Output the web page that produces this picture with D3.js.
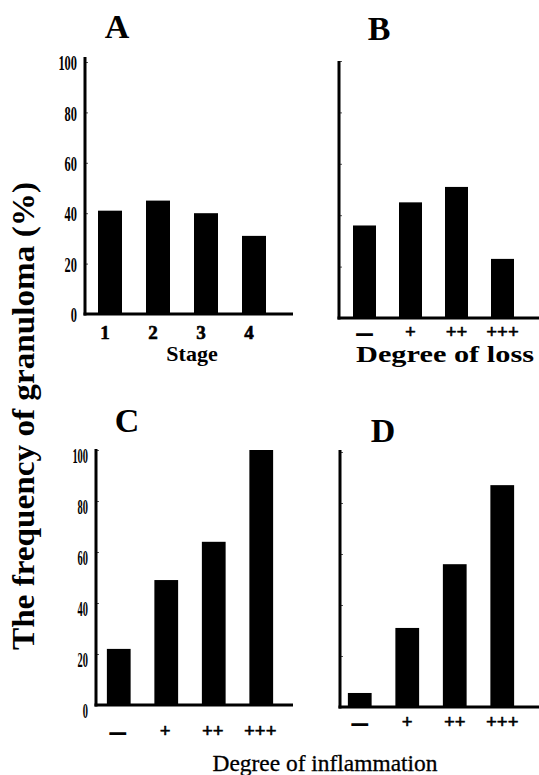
<!DOCTYPE html>
<html lang="en">
<head>
<meta charset="utf-8">
<title>Frequency of granuloma</title>
<script src="https://cdn.jsdelivr.net/npm/d3@7"></script>
<style>
  body { margin: 0; background: #fff; }
  svg { display: block; font-family: 'Liberation Serif', 'Times New Roman', serif; }
</style>
</head>
<body>
<div id="chart"></div>
<script>

/* Data */
/* ==== */

var stageCats = ['1', '2', '3', '4'],
    gradeCats = ['\u2014', '+', '++', '+++'],
    yTicks = [0, 20, 40, 60, 80, 100];

var stageFreq = [41, 45, 40, 31],          // A: by stage
    lossFreq = [36, 45, 51, 23],           // B: by degree of loss
    inflamFreqC = [22, 49, 64, 100],       // C: by degree of inflammation
    inflamFreqD = [5.5, 31, 56, 87];       // D: by degree of inflammation

var width = 539,
    height = 775;

var svg = d3.select('#chart').append('svg')
    .attr('width', width)
    .attr('height', height);

/* Panel layout */
/* ------------ */

var panels = [
  { name: 'A', cats: stageCats, values: stageFreq, labels: true, labScale: 0.62,
    axisX: 85, y0: 314, y100: 62, top: 57, x0: 86, x1: 278, baseEnd: 293,
    titleX: 117, titleY: 38, labY: 339, labDx: -5, tickDy: 1 },
  { name: 'B', cats: gradeCats, values: lossFreq, labels: false, labScale: 1,
    axisX: 339, y0: 318, y100: 61, top: 61, x0: 341.5, x1: 525.5, baseEnd: 539,
    titleX: 379, titleY: 40, labY: 338, labDx: 0, tickDy: 0 },
  { name: 'C', cats: gradeCats, values: inflamFreqC, labels: true, labScale: 0.52,
    axisX: 96, y0: 705, y100: 450, top: 449, x0: 95, x1: 285, baseEnd: 293,
    titleX: 127, titleY: 432, labY: 737, labDx: -1, tickDy: 6 },
  { name: 'D', cats: gradeCats, values: inflamFreqD, labels: false, labScale: 1,
    axisX: 340, y0: 707, y100: 452, top: 450, x0: 336, x1: 526, baseEnd: 539,
    titleX: 383, titleY: 442, labY: 728, labDx: 0, tickDy: 0 }
];

panels.forEach(function(p) {

  var g = svg.append('g');

  var x = d3.scaleBand()
      .domain(p.cats)
      .range([p.x0, p.x1])
      .paddingInner(0.5)
      .paddingOuter(0.25);

  var y = d3.scaleLinear()
      .domain([0, 100])
      .range([p.y0, p.y100]);

  // Bars
  g.selectAll('rect')
    .data(p.values)
    .join('rect')
      .attr('x', function(d, i) { return x(p.cats[i]); })
      .attr('width', x.bandwidth())
      .attr('y', function(d) { return y(d); })
      .attr('height', function(d) { return y(0) - y(d); })
      .attr('fill', '#000');

  // Y axis (small inward ticks, labels only on A and C)
  var yAxis = d3.axisLeft(y)
      .tickValues(yTicks)
      .tickSizeInner(-3)
      .tickSizeOuter(0)
      .tickPadding(8)
      .tickFormat(p.labels ? d3.format('d') : '');

  var ag = g.append('g')
      .attr('transform', 'translate(' + p.axisX + ',0)')
      .call(yAxis);

  ag.select('.domain').remove();
  ag.selectAll('.tick line').attr('stroke', '#555').attr('stroke-width', 1);
  ag.selectAll('.tick text')
      .attr('fill', '#000')
      .attr('font-family', "'Liberation Serif', serif")
      .attr('font-weight', 'bold')
      .attr('font-size', 20)
      .attr('x', -8 / p.labScale)
      .attr('dy', function() { return (0.33 * 20 + p.tickDy) + 'px'; })
      .attr('transform', 'scale(' + p.labScale + ',1)');

  // Axis line and baseline
  g.append('line')
      .attr('x1', p.axisX).attr('x2', p.axisX)
      .attr('y1', p.top).attr('y2', y(0) + 1.5)
      .attr('stroke', '#000').attr('stroke-width', 3);

  g.append('line')
      .attr('x1', p.axisX - 1.5).attr('x2', p.baseEnd)
      .attr('y1', y(0)).attr('y2', y(0))
      .attr('stroke', '#000').attr('stroke-width', 3);

  // Category labels
  g.selectAll('text.cat')
    .data(p.cats)
    .join('text')
      .attr('class', 'cat')
      .attr('x', function(d) { return x(d) + x.bandwidth() / 2 + p.labDx; })
      .attr('y', p.labY)
      .attr('text-anchor', 'middle')
      .attr('font-weight', 'bold')
      .attr('font-size', function(d) { return d === '\u2014' ? 15 : 19; })
      .attr('stroke', '#000')
      .attr('stroke-width', function(d) { return d === '\u2014' ? 1.6 : 0.6; })
      .text(function(d) { return d; });

  // Panel letter
  g.append('text')
      .attr('x', p.titleX)
      .attr('y', p.titleY)
      .attr('text-anchor', 'middle')
      .attr('font-weight', 'bold')
      .attr('font-size', 34)
      .text(p.name);

});

/* Axis titles */
/* ----------- */

svg.append('text')
    .attr('x', 192).attr('y', 361)
    .attr('text-anchor', 'middle')
    .attr('font-weight', 'bold')
    .attr('font-size', 22)
    .text('Stage');

svg.append('text')
    .attr('x', 445).attr('y', 362)
    .attr('text-anchor', 'middle')
    .attr('font-weight', 'bold')
    .attr('font-size', 23)
    .attr('textLength', 178)
    .attr('lengthAdjust', 'spacingAndGlyphs')
    .text('Degree of loss');

svg.append('text')
    .attr('x', 325).attr('y', 771)
    .attr('text-anchor', 'middle')
    .attr('font-size', 23)
    .attr('stroke', '#000')
    .attr('stroke-width', 0.3)
    .attr('textLength', 225)
    .attr('lengthAdjust', 'spacingAndGlyphs')
    .text('Degree of inflammation');

svg.append('text')
    .attr('transform', 'translate(34,416) rotate(-90)')
    .attr('text-anchor', 'middle')
    .attr('font-weight', 'bold')
    .attr('font-size', 32)
    .attr('textLength', 468)
    .attr('lengthAdjust', 'spacingAndGlyphs')
    .text('The frequency of granuloma (%)');

</script>
</body>
</html>
